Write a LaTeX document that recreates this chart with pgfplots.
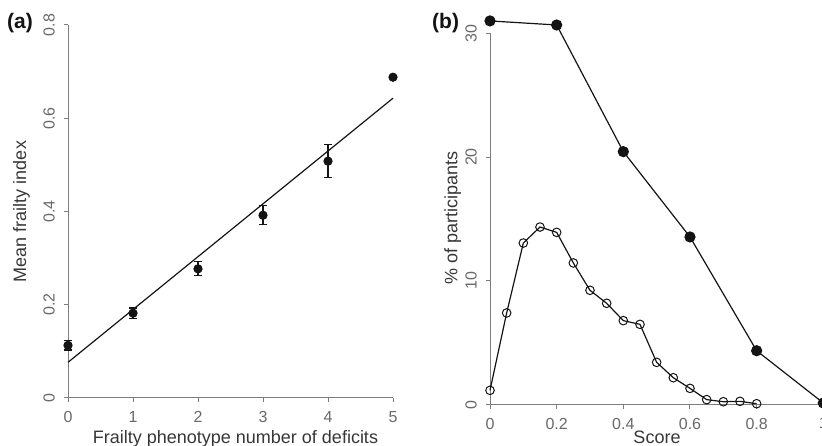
\documentclass[border=0pt]{standalone}
\usepackage{pgfplots}
\pgfplotsset{compat=1.18}
\usepackage{fontspec}
\setmainfont{Liberation Sans}

\definecolor{axisgray}{RGB}{125,125,125}
\definecolor{tickgray}{RGB}{105,105,105}
\definecolor{labelgray}{RGB}{55,55,55}
\definecolor{ink}{RGB}{20,20,20}

\pgfplotsset{
  rplot/.style={
    scale only axis,
    axis lines=left,
    axis line style={-, axisgray, line width=1pt},
    tick style={axisgray, line width=1pt},
    tick align=outside,
    major tick length=4pt,
    clip=false,
    /pgf/number format/assume math mode=true,
    tick label style={font=\fontsize{16}{16}\selectfont, text=tickgray},
    xticklabel style={anchor=north, inner sep=0pt, yshift=-9pt},
    yticklabel style={xshift=-9pt, rotate=90, anchor=south, inner sep=0pt},
  },
}

\begin{document}
\begin{tikzpicture}

% ---------- (a) frailty index against number of phenotype deficits ----------
\begin{axis}[rplot,
    at={(68pt,48pt)}, anchor=south west,
    width=325pt, height=373pt,
    xmin=0, xmax=5, ymin=0, ymax=0.8,
    xtick={0,1,2,3,4,5},
    ytick={0,0.2,0.4,0.6,0.8},
    yticklabels={0,0.2,0.4,0.6,0.8},
  ]
  % fitted regression line
  \addplot[ink, line width=1.2pt, no markers] coordinates {(0,0.0765) (5,0.643)};
  % group means with error bars
  \addplot[ink, line width=1.2pt, only marks, mark=*, mark size=4pt,
           error bars/.cd, y dir=both, y explicit,
           error bar style={line width=1.2pt},
           error mark options={line width=1.2pt, mark size=4pt, rotate=90}]
    table[x=x, y=y, y error=e] {
      x y     e
      0 0.113 0.010
      1 0.182 0.011
      2 0.277 0.015
      3 0.392 0.020
      4 0.508 0.035
      5 0.688 0.000
    };
\end{axis}

% ---------- (b) distribution of scores ----------
\begin{axis}[rplot,
    at={(490pt,41.3pt)}, anchor=south west,
    width=333.3pt, height=371.4pt,
    xmin=0, xmax=1, ymin=0, ymax=30,
    xtick={0,0.2,0.4,0.6,0.8,1},
    xticklabels={0,0.2,0.4,0.6,0.8,1},
    ytick={0,10,20,30},
  ]
  % phenotype score
  \addplot[ink, line width=1.2pt, mark=*, mark size=5pt] coordinates {
    (0,31.0) (0.2,30.67) (0.4,20.44) (0.6,13.55) (0.8,4.36) (1.0,0.14)
  };
  % frailty index score
  \addplot[ink, line width=1.2pt, mark=o, mark size=4.3pt,
           mark options={line width=1pt}] coordinates {
    (0,1.16) (0.05,7.41) (0.10,13.06) (0.15,14.35) (0.20,13.92)
    (0.25,11.45) (0.30,9.24) (0.35,8.19) (0.40,6.79) (0.45,6.49)
    (0.50,3.42) (0.55,2.18) (0.60,1.32) (0.65,0.41) (0.70,0.24)
    (0.75,0.27) (0.80,0.08)
  };
\end{axis}

% panel letters and axis titles
\node[anchor=base west, inner sep=0pt, font=\fontsize{21}{21}\selectfont\bfseries, text=ink] at (7pt,417pt) {(a)};
\node[anchor=base west, inner sep=0pt, font=\fontsize{21}{21}\selectfont\bfseries, text=ink] at (432pt,417pt) {(b)};

\node[rotate=90, anchor=base, inner sep=0pt, font=\fontsize{18}{18}\selectfont, text=labelgray] at (26pt,234.5pt) {Mean frailty index};
\node[anchor=base west, inner sep=0pt, font=\fontsize{18}{18}\selectfont, text=labelgray] at (92.7pt,2.5pt) {Frailty phenotype number of deficits};

\node[rotate=90, anchor=base, inner sep=0pt, font=\fontsize{18}{18}\selectfont, text=labelgray] at (457.3pt,228pt) {\% of participants};
\node[anchor=base, inner sep=0pt, font=\fontsize{18}{18}\selectfont, text=labelgray] at (657pt,2.5pt) {Score};

\pgfresetboundingbox
\useasboundingbox (0pt,0pt) rectangle (822pt,446pt);
\end{tikzpicture}
\end{document}
